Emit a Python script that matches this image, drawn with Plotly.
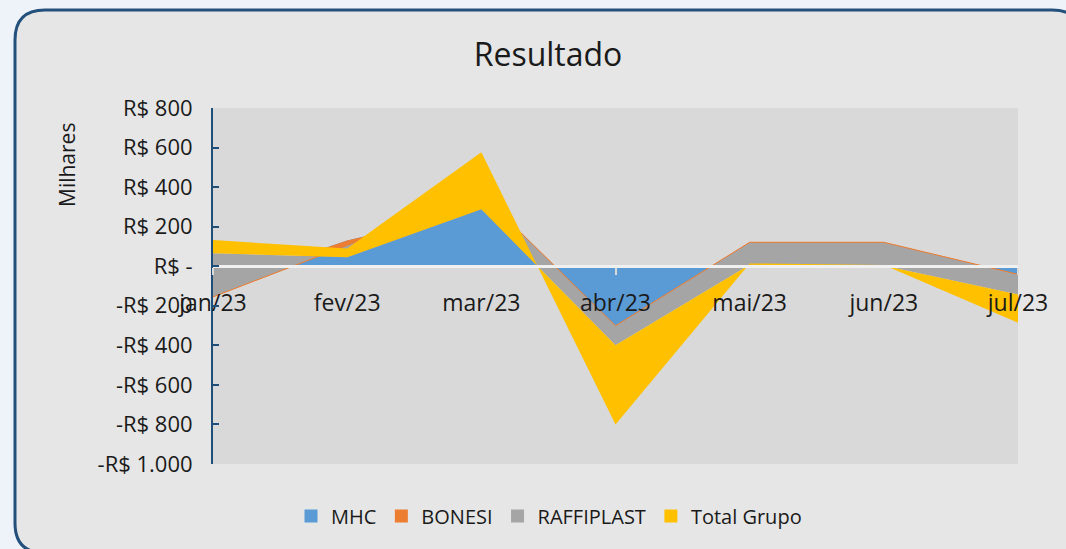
import plotly.graph_objects as go

# ---- data (values in R$ thousands) ----
months = ["jan/23", "fev/23", "mar/23", "abr/23", "mai/23", "jun/23", "jul/23"]
mhc = [-100, 130, 288, -298, 6, 1, -44]
bonesi = [-55, -25, 78, -3, 115, 120, 3]
raffiplast = [221, -60, -78, -99, -114, -118, -102]
total_grupo = [66, 45, 288, -400, 7, 3, -143]

series_names = ["MHC", "BONESI", "RAFFIPLAST", "Total Grupo"]
series_colors = ["#5b9bd5", "#ed7d31", "#a5a5a5", "#ffc000"]

y_tickvals = [800, 600, 400, 200, 0, -200, -400, -600, -800, -1000]
y_ticktext = ["R$ 800", "R$ 600", "R$ 400", "R$ 200", "R$ -", "-R$ 200",
              "-R$ 400", "-R$ 600", "-R$ 800", "-R$ 1.000"]
y_range = [-1000, 800]

FONT = "Open Sans"
TXT = "#1a1a1a"

W, H = 1066, 549
PL, PR, PT, PB = 213, 1018, 108, 464  # plot area in pixels

fig = go.Figure()

for name, vals, color in zip(series_names, [mhc, bonesi, raffiplast, total_grupo], series_colors):
    fig.add_trace(go.Scatter(
        x=months, y=vals, name=name, stackgroup="one", mode="lines",
        line=dict(width=1 if name == "BONESI" else 0, color=color),
        fillcolor=color, showlegend=False, hoverinfo="skip",
    ))

# legend entries as small squares
for name, color in zip(series_names, series_colors):
    fig.add_trace(go.Scatter(
        x=[None], y=[None], mode="markers", name=name,
        marker=dict(symbol="square", size=13, color=color),
        showlegend=True,
    ))


def to_paper(px, py):
    return (px - PL) / (PR - PL), (PB - py) / (PB - PT)


def rounded_rect(x0, y0, x1, y1, r):
    pts = [
        ("M", [(x0 + r, y0)]), ("L", [(x1 - r, y0)]), ("Q", [(x1, y0), (x1, y0 + r)]),
        ("L", [(x1, y1 - r)]), ("Q", [(x1, y1), (x1 - r, y1)]),
        ("L", [(x0 + r, y1)]), ("Q", [(x0, y1), (x0, y1 - r)]),
        ("L", [(x0, y0 + r)]), ("Q", [(x0, y0), (x0 + r, y0)]),
    ]
    s = ""
    for cmd, ps in pts:
        s += cmd + " " + " ".join("%.5f,%.5f" % to_paper(*p) for p in ps) + " "
    return s + "Z"


zero_pos = (0 - y_range[0]) / (y_range[1] - y_range[0])

fig.update_layout(
    width=W, height=H,
    margin=dict(l=PL, r=W - PR, t=PT, b=H - PB, autoexpand=False),
    paper_bgcolor="#eef3fa",
    plot_bgcolor="#d9d9d9",
    font=dict(family=FONT, color=TXT),
    title=dict(text="Resultado", x=(548 - PL) / (PR - PL), xref="paper",
               xanchor="center", y=1 - 55 / H, yanchor="middle",
               font=dict(size=32, family=FONT, color=TXT)),
    xaxis=dict(
        type="category", range=[0, 6], anchor="free", position=zero_pos,
        showline=True, linecolor="#f0f0f0", linewidth=3,
        ticks="outside", ticklen=7, tickwidth=2, tickcolor="#d9d9d9",
        tickfont=dict(size=23, family=FONT, color=TXT),
        ticklabelstandoff=8,
        showgrid=False, zeroline=False, fixedrange=True,
    ),
    yaxis=dict(
        range=y_range, tickvals=y_tickvals, ticktext=y_ticktext,
        showline=True, linecolor="#1f4e79", linewidth=2,
        ticks="inside", ticklen=6, tickwidth=2, tickcolor="#1f4e79",
        tickfont=dict(size=22, family=FONT, color=TXT),
        ticklabelstandoff=14,
        showgrid=False, zeroline=False, fixedrange=True,
    ),
    legend=dict(
        orientation="h", x=(549 - PL) / (PR - PL), xanchor="center",
        y=(PB - 516) / (PB - PT), yanchor="middle", traceorder="normal",
        font=dict(size=20, family=FONT, color=TXT),
        bgcolor="rgba(0,0,0,0)", itemwidth=30,
    ),
    shapes=[
        dict(type="path", xref="paper", yref="paper", layer="below",
             path=rounded_rect(15, 10, 1082, 553, 30),
             fillcolor="#e6e6e6", line=dict(color="#24507c", width=3)),
        dict(type="rect", xref="paper", yref="paper", layer="below",
             x0=0, x1=1, y0=0, y1=1, fillcolor="#d9d9d9", line=dict(width=0)),
    ],
    annotations=[dict(
        text="Milhares", xref="paper", yref="paper",
        x=(67 - PL) / (PR - PL), y=(PB - 165) / (PB - PT),
        showarrow=False, textangle=-90, xanchor="center", yanchor="middle",
        font=dict(size=21, family=FONT, color=TXT),
    )],
)

fig.write_html("out.html", config={"displayModeBar": False},
               post_script="document.body.style.margin='0';")
